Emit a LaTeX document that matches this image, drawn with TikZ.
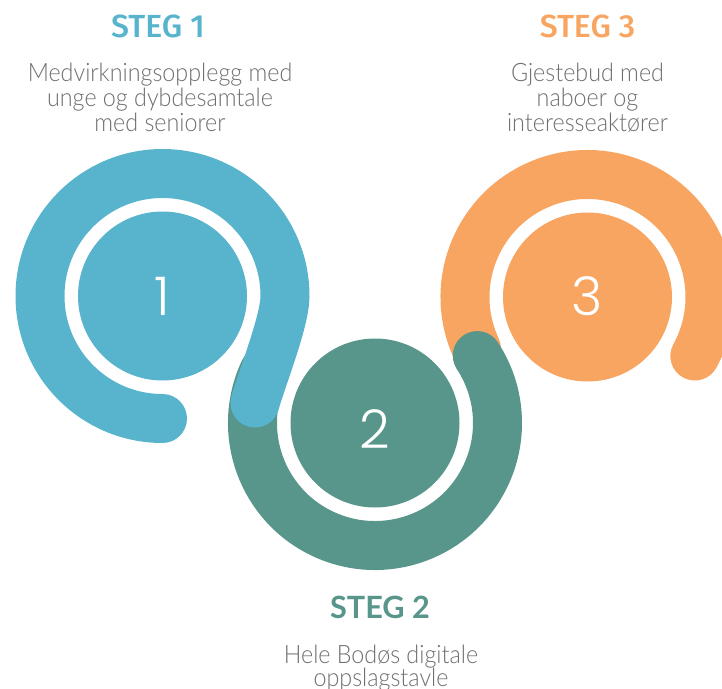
\documentclass[tikz,border=0pt]{standalone}
\usepackage{fontspec}
\usepackage{graphicx}
\setmainfont{Lato Light}
\newfontfamily\titlefont{Fira Sans Medium}
\newfontfamily\titlefontb{Lato}
\newfontfamily\digitfont{Poppins Light}
\usetikzlibrary{calc}
\definecolor{cblue}{RGB}{88,180,204}
\definecolor{cteal}{RGB}{88,149,139}
\definecolor{corange}{RGB}{247,165,97}
\definecolor{cgray}{RGB}{110,110,110}
\newcommand{\bodytxt}[1]{\scalebox{0.92}[1]{#1}}
\begin{document}
\begin{tikzpicture}[x=0.75pt,y=-0.75pt,
  band/.style={line width=36.75pt, line cap=round},
  disc/.style={circle, inner sep=0pt, minimum size=126.75pt},
  digit/.style={text=white, font=\digitfont\fontsize{40}{40}\selectfont, inner sep=0pt},
  steptitle/.style={font=\titlefont\fontsize{24}{24}\selectfont, anchor=base, inner sep=0pt},
  steptitleb/.style={font=\titlefontb\bfseries\fontsize{23}{23}\selectfont, anchor=base, inner sep=0pt},
  body/.style={text=cgray, font=\fontsize{19}{19}\selectfont, anchor=base, inner sep=0pt}]
\useasboundingbox (0,0) rectangle (722,689);
\coordinate (c1) at (162.5,296);
\coordinate (c2) at (375,423);
\coordinate (c3) at (587.5,297);
\coordinate (e1) at (255,403);
% bands
\draw[band, corange] ($(c3)+(155:122.5)$) arc[start angle=155, end angle=388.8, radius=122.5];
\draw[band, cteal] ($(c2)+(205:122.5)$) arc[start angle=205, end angle=-33.4, radius=122.5];
\draw[band, cblue] ($(c1)+(90:122.5)$) arc[start angle=90, end angle=360, radius=122.5]
   .. controls +(0,25) and +(7,-25) .. (e1);
% discs
\node[disc, fill=cblue] (d1) at (c1) {};
\node[disc, fill=cteal] (d2) at (c2) {};
\node[disc, fill=corange] (d3) at (c3) {};
\node[digit] (n1) at (162.5,296) {1};
\node[digit] (n2) at (375,429) {2};
\node[digit] (n3) at (587.5,296) {3};
% texts
\node[steptitle, text=cblue] (s1) at (158,37) {STEG 1};
\node[body] (t1a) at (160,81) {\bodytxt{Medvirkningsopplegg med}};
\node[body] (t1b) at (160,106) {\bodytxt{unge og dybdesamtale}};
\node[body] (t1c) at (160,131) {\bodytxt{med seniorer}};
\node[steptitle, text=corange] (s3) at (587.5,37) {STEG 3};
\node[body] (t3a) at (587.5,81) {\bodytxt{Gjestebud med}};
\node[body] (t3b) at (587.5,106) {\bodytxt{naboer og}};
\node[body] (t3c) at (587.5,131) {\bodytxt{interesseaktører}};
\node[steptitleb, text=cteal] (s2) at (380,618) {STEG 2};
\node[body] (t2a) at (381,663) {\bodytxt{Hele Bodøs digitale}};
\node[body] (t2b) at (381,686) {\bodytxt{oppslagstavle}};
\end{tikzpicture}
\end{document}
